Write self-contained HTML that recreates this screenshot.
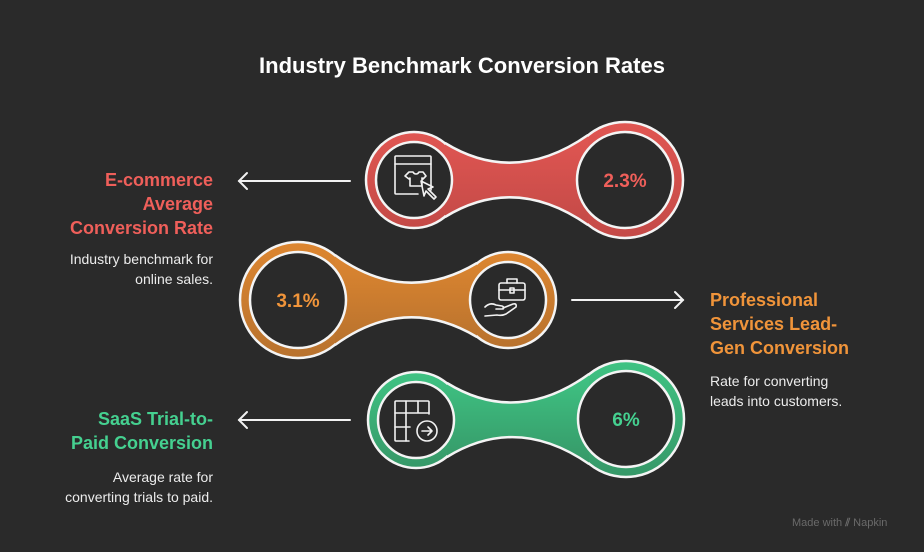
<!DOCTYPE html>
<html><head><meta charset="utf-8"><style>
body{margin:0;background:#2a2a2a;width:924px;height:552px;overflow:hidden;font-family:"Liberation Sans",sans-serif;position:relative}
.t{position:absolute;font-weight:bold;font-size:18px;line-height:24px}
.d{position:absolute;color:#ececec;font-size:14px;line-height:20px}
.r{text-align:right}
</style></head><body>
<div style="position:absolute;left:0;width:924px;top:53px;text-align:center;color:#fff;font-weight:bold;font-size:22px">Industry Benchmark Conversion Rates</div>

<div class="t r" style="right:711px;top:168px;color:#ef5f5a;width:200px">E-commerce<br>Average<br>Conversion Rate</div>
<div class="d r" style="right:711px;top:249px;width:200px">Industry benchmark for<br>online sales.</div>

<div class="t" style="left:710px;top:288px;color:#f0943a">Professional<br>Services Lead-<br>Gen Conversion</div>
<div class="d" style="left:710px;top:371px">Rate for converting<br>leads into customers.</div>

<div class="t r" style="right:711px;top:407px;color:#45d090;width:200px">SaaS Trial-to-<br>Paid Conversion</div>
<div class="d r" style="right:711px;top:467px;width:200px">Average rate for<br>converting trials to paid.</div>

<div style="position:absolute;left:792px;top:517px;color:#6a6a6a;font-size:11px">Made with <span style="font-weight:bold">⫽</span> Napkin</div>

<svg width="924" height="552" style="position:absolute;left:0;top:0">
<defs>
<linearGradient id="gr" x1="0" y1="0" x2="0" y2="1"><stop offset="0" stop-color="#e05652"/><stop offset="1" stop-color="#c44a47"/></linearGradient>
<linearGradient id="go" x1="0" y1="0" x2="0" y2="1"><stop offset="0" stop-color="#dd8630"/><stop offset="1" stop-color="#b8722e"/></linearGradient>
<linearGradient id="gg" x1="0" y1="0" x2="0" y2="1"><stop offset="0" stop-color="#3fc383"/><stop offset="1" stop-color="#369868"/></linearGradient>
</defs>
<g stroke="#f2f2f2" stroke-width="2" fill="none" stroke-linecap="round">
<line x1="350" y1="181" x2="239" y2="181"/><polyline points="247,173 239,181 247,189"/>
<line x1="572" y1="300" x2="683" y2="300"/><polyline points="675,292 683,300 675,308"/>
<line x1="350" y1="420" x2="239" y2="420"/><polyline points="247,412 239,420 247,428"/>
</g>

<g>
<circle cx="414" cy="180" r="48" fill="url(#gr)" stroke="#f4f4f4" stroke-width="2.5"/>
<circle cx="625" cy="180" r="58" fill="url(#gr)" stroke="#f4f4f4" stroke-width="2.5"/>
<path d="M445,143 Q515,186 588,135 L588,225 Q515,174 445,217 Z" fill="url(#gr)"/>
<path d="M445,143 Q515,186 588,135 M445,217 Q515,174 588,225" stroke="#f4f4f4" stroke-width="2.5" fill="none"/>
<circle cx="414" cy="180" r="38" fill="#2a2a2a" stroke="#f4f4f4" stroke-width="2.5"/>
<circle cx="625" cy="180" r="48" fill="#2a2a2a" stroke="#f4f4f4" stroke-width="2.5"/>
</g>
<g>
<circle cx="298" cy="300" r="58" fill="url(#go)" stroke="#f4f4f4" stroke-width="2.5"/>
<circle cx="508" cy="300" r="48" fill="url(#go)" stroke="#f4f4f4" stroke-width="2.5"/>
<path d="M335,255 Q405,306 477,263 L477,337 Q405,294 335,345 Z" fill="url(#go)"/>
<path d="M335,255 Q405,306 477,263 M335,345 Q405,294 477,337" stroke="#f4f4f4" stroke-width="2.5" fill="none"/>
<circle cx="298" cy="300" r="48" fill="#2a2a2a" stroke="#f4f4f4" stroke-width="2.5"/>
<circle cx="508" cy="300" r="38" fill="#2a2a2a" stroke="#f4f4f4" stroke-width="2.5"/>
</g>
<g>
<circle cx="416" cy="420" r="48" fill="url(#gg)" stroke="#f4f4f4" stroke-width="2.5"/>
<circle cx="626" cy="419" r="58" fill="url(#gg)" stroke="#f4f4f4" stroke-width="2.5"/>
<path d="M447,383 Q517,426 589,374 L589,464 Q517,414 447,457 Z" fill="url(#gg)"/>
<path d="M447,383 Q517,426 589,374 M447,457 Q517,414 589,464" stroke="#f4f4f4" stroke-width="2.5" fill="none"/>
<circle cx="416" cy="420" r="38" fill="#2a2a2a" stroke="#f4f4f4" stroke-width="2.5"/>
<circle cx="626" cy="419" r="48" fill="#2a2a2a" stroke="#f4f4f4" stroke-width="2.5"/>
</g>

<g font-family="Liberation Sans, sans-serif" font-weight="bold" font-size="19" text-anchor="middle">
<text x="625" y="187" fill="#ef5f5a">2.3%</text>
<text x="298" y="307" fill="#f0943a">3.1%</text>
<text x="626" y="426" fill="#45d090">6%</text>
</g>

<g stroke="#f2f2f2" stroke-width="1.6" fill="none" stroke-linejoin="round" stroke-linecap="round">
<path d="M431,190 L431,157 Q431,156 430,156 L396,156 Q395,156 395,157 L395,193 Q395,194 396,194 L418,194"/>
<line x1="395" y1="164" x2="431" y2="164"/>
<path d="M405,176 L409,172 L413,172 Q414,174 416,174 Q418,174 419,172 L423,172 L426,176 L423,179 L422,178 L422,186 L410,186 L410,178 L409,179 Z"/>
<path d="M421,181 L433,187 L428,189 L436,197 L434,199 L426,191 L424,196 Z"/>
<rect x="499" y="283" width="26" height="17" rx="2"/>
<path d="M507,283 L507,279 L517,279 L517,283"/>
<path d="M499,290 L525,290"/>
<rect x="510" y="288" width="4" height="5"/>
<path d="M485,307 Q490,302 496,305 L502,306 Q505,307 503,309 L496,309 M503,308 L513,304 Q517,303 516,307 L506,314 Q502,316 497,315 L485,316"/>
<path d="M429,414 L429,402 Q429,401 428,401 L396,401 Q395,401 395,402 L395,440 Q395,441 396,441 L409,441"/>
<path d="M395,413 L429,413 M395,427 L410,427 M406,401 L406,441 M418,401 L418,413"/>
<circle cx="427" cy="431" r="10"/>
<path d="M422,431 L432,431 M428,427 L432,431 L428,435"/>
</g>
</svg>
</body></html>
